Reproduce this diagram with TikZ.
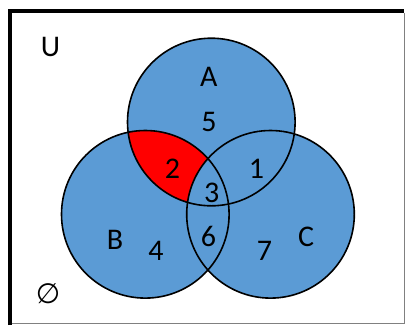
\documentclass[tikz,border=0pt]{standalone}
\usepackage{fontspec}
\setmainfont{Carlito}
\newfontfamily\symfont{DejaVu Sans}
\usepackage{xcolor}
\definecolor{setblue}{HTML}{5B9BD5}
\definecolor{setred}{HTML}{FF0000}
\usetikzlibrary{positioning}

\begin{document}
\begin{tikzpicture}[
  x=1pt, y=-1pt,
  setfill/.style={fill=setblue},
  setline/.style={draw=black, line width=1.6pt},
  lbl/.style={inner sep=0pt, font=\fontsize{30}{35}\selectfont}
]
\useasboundingbox (0,0) rectangle (406,325);
\fill[white] (0,0) rectangle (406,325);
% frame
\draw[line width=4pt] (10,325) -- (10,11) -- (404,11);
\draw[gray, line width=1.2pt] (404.5,13) -- (404.5,323.5) -- (12,323.5);

% circle centres
\coordinate (ca) at (211.3,122);
\coordinate (cb) at (145.3,214.3);
\coordinate (cc) at (270.5,214.3);
\def\rad{83.8}

\fill[setfill] (ca) circle (\rad);
\fill[setfill] (cb) circle (\rad);
\fill[setfill] (cc) circle (\rad);
% A and B, not C
\begin{scope}
  \clip (ca) circle (\rad);
  \clip (cb) circle (\rad);
  \fill[setred] (0,0) rectangle (406,325);
  \fill[setfill] (cc) circle (\rad);
\end{scope}
\draw[setline] (ca) circle (\rad);
\draw[setline] (cb) circle (\rad);
\draw[setline] (cc) circle (\rad);

\node[lbl] (u) at (50.5,47) {U};
\node[lbl] (a) at (208.7,77) {A};
\node[lbl] (b) at (115,240) {B};
\node[lbl] (c) at (306,237) {C};
\node[lbl] (n5) at (209,121.5) {5};
\node[lbl] (n2) at (172.5,169) {2};
\node[lbl] (n1) at (256.5,169) {1};
\node[lbl] (n3) at (211.7,193) {3};
\node[lbl] (n6) at (208.5,236) {6};
\node[lbl] (n4) at (156,251) {4};
\node[lbl] (n7) at (264.5,251) {7};
\node[lbl, font=\symfont\fontsize{28}{32}\selectfont] (empty) at (48,294) {∅};
\end{tikzpicture}
\end{document}
